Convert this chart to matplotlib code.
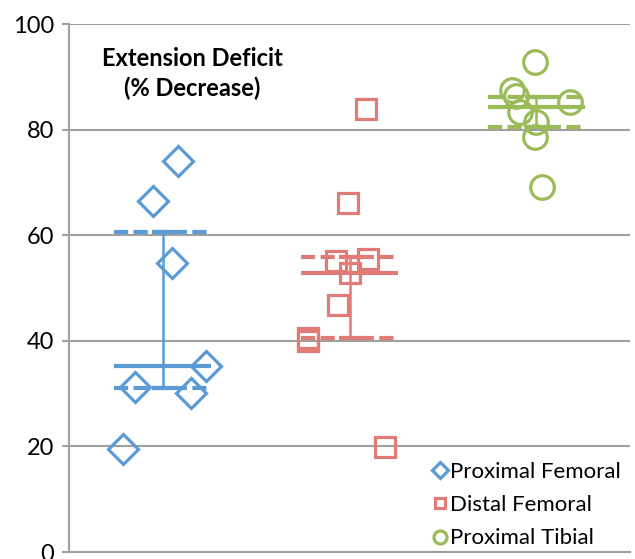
import numpy as np
import matplotlib.pyplot as plt

groups = ['Proximal Femoral', 'Distal Femoral', 'Proximal Tibial']
colors = ['#5B9BD5', '#E07B78', '#9BBB59']
markers = ['D', 's', 'o']

# values, with horizontal jitter position
x_prox_fem = [1.08, 0.95, 1.05, 1.23, 0.85, 1.15, 0.79]
y_prox_fem = [74.1, 66.5, 54.7, 35.2, 31.3, 30.1, 19.5]
x_dist_fem = [2.09, 1.99, 1.93, 2.10, 2.00, 1.94, 1.78, 1.78, 2.19]
y_dist_fem = [83.9, 66.1, 55.1, 55.5, 52.8, 46.8, 40.5, 40.0, 19.9]
x_prox_tib = [2.99, 2.87, 2.89, 3.18, 2.91, 3.00, 2.99, 3.03]
y_prox_tib = [92.8, 87.5, 86.4, 85.2, 83.3, 81.4, 78.6, 69.1]

medians = [35.2, 52.8, 84.2]
q1 = [31.1, 40.5, 80.5]
q3 = [60.6, 55.9, 86.2]

xs = [x_prox_fem, x_dist_fem, x_prox_tib]
ys = [y_prox_fem, y_dist_fem, y_prox_tib]
msizes = [15, 14, 17]

plt.rcParams['font.family'] = ['Lato', 'DejaVu Sans']
fig = plt.figure(figsize=(6.35, 5.59), dpi=100)
ax = fig.add_axes([0.109, 0.0125, 0.883, 0.9445])

for i in range(3):
    c = i + 1
    ax.plot(xs[i], ys[i], linestyle='none', marker=markers[i], ms=msizes[i],
            mfc='none', mec=colors[i], mew=2.3, label=groups[i], zorder=3)
    ax.hlines(medians[i], c - 0.26, c + 0.26, color=colors[i], lw=3, zorder=4)
    for q in (q1[i], q3[i]):
        ax.plot([c - 0.26, c + 0.26], [q, q], color=colors[i], lw=3,
                linestyle=(0, (3.4, 1.3)), solid_capstyle='butt', zorder=4)
    ax.errorbar(c, medians[i], yerr=[[medians[i] - q1[i]], [q3[i] - medians[i]]],
                fmt='none', ecolor=colors[i], elinewidth=1.8, capsize=8,
                capthick=3, zorder=4)

ax.set_xlim(0.5, 3.5)
ax.set_ylim(0, 100)
ax.set_yticks([0, 20, 40, 60, 80, 100])
ax.set_xticks([])
ax.yaxis.grid(True, color='#A0A0A0', lw=1.5)
ax.set_axisbelow(True)
for s in ['top', 'right']:
    ax.spines[s].set_visible(False)
ax.spines['left'].set_color('#A0A0A0')
ax.spines['left'].set_linewidth(1.5)
ax.spines['bottom'].set_color('#A0A0A0')
ax.spines['bottom'].set_linewidth(1.5)
ax.tick_params(axis='y', labelsize=17, length=5, color='#A0A0A0', width=1.5,
               pad=6)

ax.text(1.16, 90.6, 'Extension Deficit\n(% Decrease)', ha='center', va='center',
        fontsize=17, fontweight='bold', linespacing=1.3)

leg = ax.legend(loc='lower right', frameon=False, fontsize=16, markerscale=0.55,
                handletextpad=0.05, handlelength=0.8, labelspacing=0.6,
                borderaxespad=0.0, bbox_to_anchor=(1.0, -0.01))

fig.savefig('out.png', dpi=100)
